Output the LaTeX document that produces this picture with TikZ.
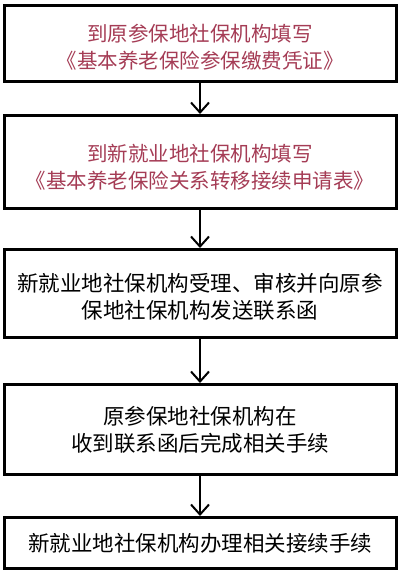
\documentclass[tikz,border=0pt]{standalone}
\usepackage{fontspec}
\newfontfamily\cjk{Noto Sans CJK SC}
\usetikzlibrary{arrows.meta}
\definecolor{redtxt}{RGB}{165,60,85}
\tikzset{
  stepbox/.style={draw=black, line width=3pt, fill=white, minimum width=392pt, inner sep=0pt, anchor=north, align=center, font=\cjk\fontsize{21.5}{27}\selectfont},
  redbox/.style={stepbox, text=redtxt, font=\cjk\fontsize{20.5}{27}\selectfont},
  flow/.style={line width=2pt, -{Straight Barb[length=10pt,width=18pt,line width=2pt]}}
}
\begin{document}
\begin{tikzpicture}[x=1pt,y=-1pt]
\useasboundingbox (0,0) rectangle (400,570);
\node[redbox, minimum height=76pt] (b1) at (200,4) {\rule{0pt}{25pt}到原参保地社保机构填写\\《基本养老保险参保缴费凭证》};
\node[redbox, minimum height=93pt] (b2) at (200,114) {\rule{0pt}{27pt}到新就业地社保机构填写\\《基本养老保险关系转移接续申请表》};
\node[stepbox, minimum height=88pt] (b3) at (200,248) {\rule{0pt}{24pt}新就业地社保机构受理、审核并向原参\\保地社保机构发送联系函};
\node[stepbox, minimum height=90pt] (b4) at (200,383) {原参保地社保机构在\\收到联系函后完成相关手续};
\node[stepbox, minimum height=51pt] (b5) at (200,516) {新就业地社保机构办理相关接续手续};
\draw[flow] (b1.south) -- (b2.north);
\draw[flow] (b2.south) -- (b3.north);
\draw[flow] (b3.south) -- (b4.north);
\draw[flow] (b4.south) -- (b5.north);
\end{tikzpicture}
\end{document}
